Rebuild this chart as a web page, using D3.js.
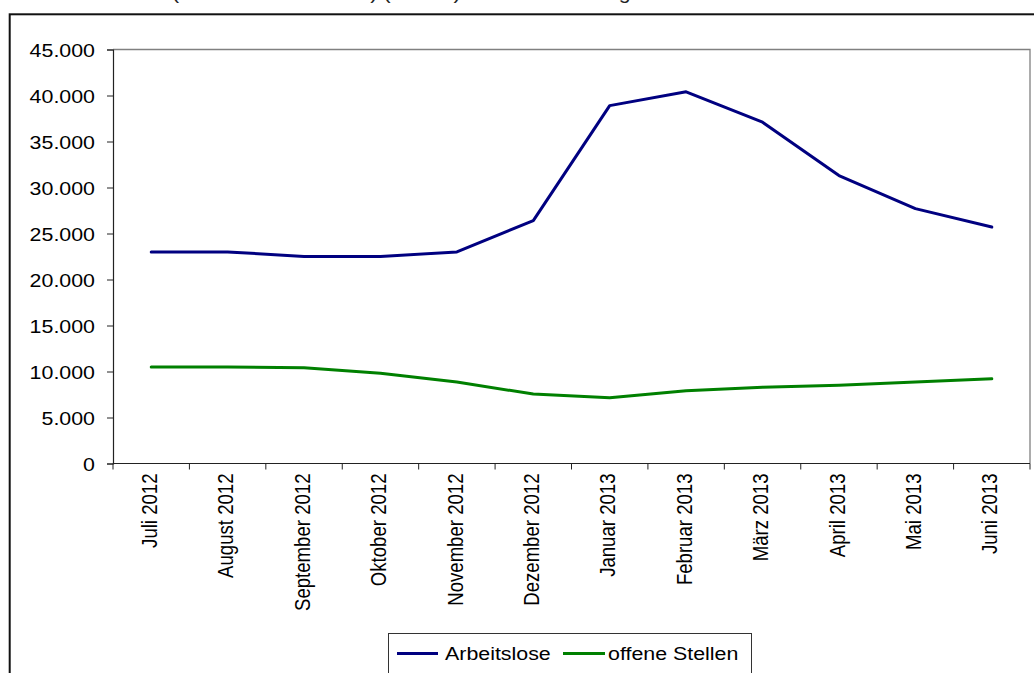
<!DOCTYPE html>
<html>
<head>
<meta charset="utf-8">
<script src="https://cdn.jsdelivr.net/npm/d3@7"></script>
<style>
  html, body { margin: 0; padding: 0; background: #fff; }
  svg { display: block; font-family: "Liberation Sans", Arial, sans-serif; }
</style>
</head>
<body>
<svg id="chart" width="1034" height="673"></svg>
<script>
// Monthly figures, July 2012 – June 2013
const months = ["Juli 2012", "August 2012", "September 2012", "Oktober 2012", "November 2012",
  "Dezember 2012", "Januar 2013", "Februar 2013", "März 2013", "April 2013", "Mai 2013", "Juni 2013"];
const arbeitslose = [23000, 23000, 22500, 22500, 23000, 26400, 38900, 40400, 37100, 31300, 27700, 25700];
const offeneStellen = [10500, 10500, 10400, 9800, 8850, 7550, 7150, 7900, 8300, 8500, 8850, 9200];
const yTicks = [0, 5000, 10000, 15000, 20000, 25000, 30000, 35000, 40000, 45000];
const seriesNames = ["Arbeitslose", "offene Stellen"];
const seriesColors = ["#000080", "#008000"];
const titleText = "(Arbeitsmarktstatistik) (SGB II) Arbeitslose und gemeldete offene Stellen";

const svg = d3.select("#chart");
const plot = { left: 113, right: 1030, top: 49.5, bottom: 463.5 };
const fontSize = 18.6;
const stretch = 1.15;   // text is drawn slightly wide

const fmt = v => d3.format(",")(v).replace(/,/g, ".");

const x = d3.scaleBand().domain(months).range([plot.left, plot.right]).padding(0);
const y = d3.scaleLinear().domain([0, 45000]).range([plot.bottom, plot.top]);

// outer frame
svg.append("rect")
  .attr("x", 9.7).attr("y", 14.3).attr("width", 1060).attr("height", 700)
  .attr("fill", "none").attr("stroke", "#111").attr("stroke-width", 2);

// title (sits above the page edge, only its lowest strokes show)
svg.append("text")
  .attr("transform", `translate(172,-1.5) scale(${stretch},1)`)
  .attr("font-size", fontSize).attr("fill", "#222")
  .text(titleText);

// plot area border (top and right)
svg.append("path")
  .attr("d", `M${plot.left},${plot.top}H${plot.right}V${plot.bottom}`)
  .attr("fill", "none").attr("stroke", "#808080").attr("stroke-width", 1.3);

// y axis
const yAxis = svg.append("g").attr("transform", `translate(${plot.left},0)`)
  .call(d3.axisLeft(y).tickValues(yTicks).tickSize(6).tickPadding(0).tickFormat(() => ""));
yAxis.select(".domain").attr("stroke", "#222").attr("stroke-width", 1.2);
yAxis.selectAll(".tick line").attr("stroke", "#222");
yAxis.selectAll(".tick").append("text")
  .attr("transform", `translate(-18,0) scale(${stretch},1)`)
  .attr("text-anchor", "end").attr("dy", "0.36em")
  .attr("fill", "#000").attr("font-size", fontSize)
  .text(d => fmt(d));

// x axis: ticks between categories
const xAxis = svg.append("g").attr("transform", `translate(0,${plot.bottom})`);
xAxis.append("line")
  .attr("x1", plot.left).attr("x2", plot.right)
  .attr("stroke", "#222").attr("stroke-width", 1.2);
const bounds = months.map(m => x(m)).concat([x.range()[1]]);
xAxis.selectAll("line.tk").data(bounds).join("line").attr("class", "tk")
  .attr("x1", d => d).attr("x2", d => d).attr("y1", 0).attr("y2", 6)
  .attr("stroke", "#222");
xAxis.selectAll("text").data(months).join("text")
  .attr("transform", d => `translate(${x(d) + x.bandwidth() / 2 - 2},10) scale(${stretch},1) rotate(-90)`)
  .attr("text-anchor", "end").attr("dy", "0.36em")
  .attr("fill", "#000").attr("font-size", fontSize)
  .text(d => d);

// lines
const line = d3.line()
  .x((d, i) => x(months[i]) + x.bandwidth() / 2)
  .y(d => y(d));
[arbeitslose, offeneStellen].forEach((vals, k) => {
  svg.append("path")
    .datum(vals)
    .attr("d", line)
    .attr("fill", "none")
    .attr("stroke", seriesColors[k])
    .attr("stroke-width", 3)
    .attr("stroke-linejoin", "round")
    .attr("stroke-linecap", "round");
});

// legend
const legend = svg.append("g");
legend.append("rect")
  .attr("x", 388.5).attr("y", 633.5).attr("width", 363).attr("height", 60)
  .attr("fill", "#fff").attr("stroke", "#333").attr("stroke-width", 1);
const legendItems = [
  { x1: 397, x2: 438, tx: 445 },
  { x1: 563, x2: 605, tx: 608 }
];
legendItems.forEach((it, k) => {
  legend.append("line")
    .attr("x1", it.x1).attr("x2", it.x2).attr("y1", 653.5).attr("y2", 653.5)
    .attr("stroke", seriesColors[k]).attr("stroke-width", 3);
  legend.append("text")
    .attr("transform", `translate(${it.tx},653.5) scale(${stretch},1)`)
    .attr("dy", "0.36em").attr("font-size", fontSize).attr("fill", "#000")
    .text(seriesNames[k]);
});
</script>
</body>
</html>
